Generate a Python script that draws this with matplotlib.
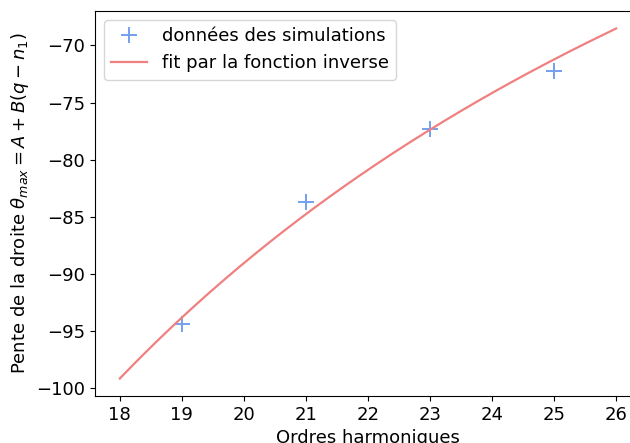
import numpy as np
import matplotlib.pyplot as plt

# simulated slopes for each harmonic order
orders = [19, 21, 23, 25]
slopes = [-94.4, -83.7, -77.3, -72.2]

# inverse-function fit parameters: theta = A + B / (q - n1)
A = -4.05
B = -1598.6
n1 = 1.2
q_min, q_max = 18, 26

q = np.linspace(q_min, q_max, 200)
fit = A + B / (q - n1)

fig = plt.figure(figsize=(6.3, 4.43), dpi=100)
ax = fig.add_axes([95 / 630, 47 / 443, 546 / 630, 385 / 443])

ax.plot(orders, slopes, '+', color='cornflowerblue', markersize=11,
        markeredgewidth=1.4, alpha=0.9, label='données des simulations')
ax.plot(q, fit, '-', color='lightcoral', linewidth=1.6,
        label='fit par la fonction inverse')

ax.set_xlabel('Ordres harmoniques', fontsize=13)
ax.set_ylabel(r'Pente de la droite $\theta_{max} = A + B(q-n_1)$', fontsize=13)
ax.tick_params(labelsize=13)
ax.set_xticks(range(18, 27))
ax.legend(loc='upper left', fontsize=13)

fig.savefig('out.png', dpi=100)
